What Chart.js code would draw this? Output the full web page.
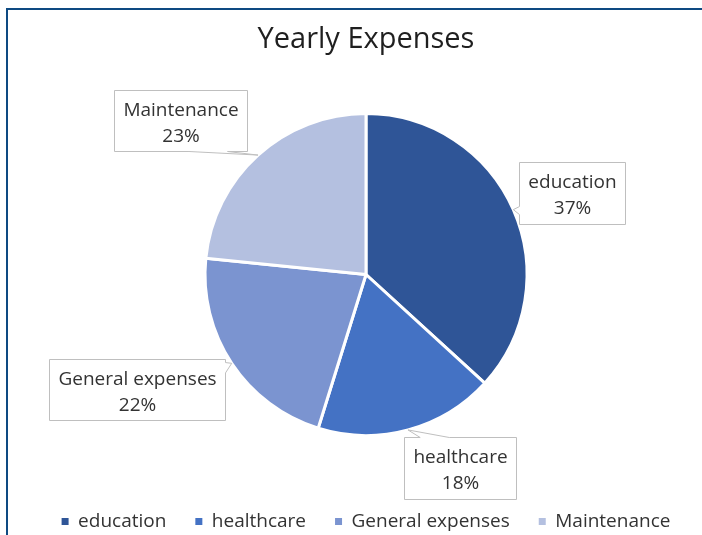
<!DOCTYPE html>
<html>
<head>
<meta charset="utf-8">
<script src="https://cdn.jsdelivr.net/npm/chart.js@4.4.1/dist/chart.umd.min.js"></script>
<style>
  body { margin: 0; background: #fff; }
  #wrap { position: relative; width: 702px; height: 535px; overflow: hidden; }
  #frame { position: absolute; left: 6px; top: 8px; width: 720px; height: 560px;
           border-top: 2px solid #0E4A82; border-left: 2px solid #0E4A82; }
  canvas { position: absolute; left: 0; top: 0; }
</style>
</head>
<body>
<div id="wrap"><div id="frame"></div><canvas id="chart" width="702" height="535"></canvas></div>
<script>
// ===== data =====
const categories = ['education', 'healthcare', 'General expenses', 'Maintenance'];
const shares = [36.8, 18.0, 21.8, 23.4];
const sliceColors = ['#2F5597', '#4472C4', '#7B94D0', '#B4C0E0'];

// callout boxes: centre offset from the slice edge midpoint, wedge side + base (fractions of that side)
const callouts = [
  { dx: 59, dy: -17, h: 62, side: 'left', a: 0.71, b: 0.84 },
  { dx: 52, dy: 38, h: 62, side: 'top', a: 0.14, b: 0.40 },
  { dx: -95, dy: 26, h: 61, side: 'right', a: 0.05, b: 0.22 },
  { dx: -78, dy: -35, h: 61, side: 'bottom', a: 0.56, b: 0.85 }
];

const FONT = '"Open Sans", "Liberation Sans", sans-serif';

const calloutPlugin = {
  id: 'callouts',
  beforeInit(chart) {
    // keep the legend on one row and pull it a bit lower than Chart.js would put it
    const legend = chart.legend;
    const fit = legend.fit;
    legend.fit = function () {
      const mw = this.maxWidth;
      this.maxWidth = mw + 60;
      fit.call(this);
      this.maxWidth = mw;
      this.width = mw;
      this.height -= 6;
    };
  },
  afterDatasetsDraw(chart) {
    const ctx = chart.ctx;
    const arcs = chart.getDatasetMeta(0).data;
    const total = shares.reduce((s, v) => s + v, 0);
    ctx.save();
    ctx.font = '19px ' + FONT;
    arcs.forEach((arc, i) => {
      const c = callouts[i];
      const mid = (arc.startAngle + arc.endAngle) / 2;
      const tx = arc.x + Math.cos(mid) * arc.outerRadius;
      const ty = arc.y + Math.sin(mid) * arc.outerRadius;
      const pct = Math.round(shares[i] / total * 100) + '%';
      const w = Math.round(Math.max(ctx.measureText(categories[i]).width, ctx.measureText(pct).width) + 18);
      const L = Math.round(tx + c.dx - w / 2) + 0.5;
      const T = Math.round(ty + c.dy - c.h / 2) + 0.5;
      const R = L + w, B = T + c.h;

      ctx.beginPath();
      ctx.moveTo(L, T);
      if (c.side === 'top') {
        ctx.lineTo(L + c.a * w, T); ctx.lineTo(tx, ty); ctx.lineTo(L + c.b * w, T);
      }
      ctx.lineTo(R, T);
      if (c.side === 'right') {
        ctx.lineTo(R, T + c.a * c.h); ctx.lineTo(tx, ty); ctx.lineTo(R, T + c.b * c.h);
      }
      ctx.lineTo(R, B);
      if (c.side === 'bottom') {
        ctx.lineTo(L + c.b * w, B); ctx.lineTo(tx, ty); ctx.lineTo(L + c.a * w, B);
      }
      ctx.lineTo(L, B);
      if (c.side === 'left') {
        ctx.lineTo(L, T + c.b * c.h); ctx.lineTo(tx, ty); ctx.lineTo(L, T + c.a * c.h);
      }
      ctx.closePath();
      ctx.fillStyle = '#FFFFFF';
      ctx.fill();
      ctx.strokeStyle = '#BFBFBF';
      ctx.lineWidth = 1;
      ctx.stroke();

      ctx.fillStyle = '#333333';
      ctx.textAlign = 'center';
      ctx.textBaseline = 'middle';
      ctx.fillText(categories[i], (L + R) / 2, T + 20);
      ctx.fillText(pct, (L + R) / 2, T + 46);
    });
    ctx.restore();
  }
};

new Chart(document.getElementById('chart'), {
  type: 'pie',
  data: {
    labels: categories,
    datasets: [{
      data: shares,
      backgroundColor: sliceColors,
      borderColor: '#FFFFFF',
      borderWidth: 3,
      radius: 161
    }]
  },
  options: {
    responsive: false,
    animation: false,
    layout: { padding: { left: 30, top: 0, right: 0, bottom: 0 } },
    plugins: {
      tooltip: { enabled: false },
      title: {
        display: true,
        text: 'Yearly Expenses',
        color: '#1F1F1F',
        font: { family: FONT, size: 29, weight: 'normal' },
        padding: { top: 22, bottom: 9.2 }
      },
      legend: {
        position: 'bottom',
        labels: {
          color: '#333333',
          font: { family: FONT, size: 19 },
          boxWidth: 7,
          boxHeight: 7,
          padding: 29,
          generateLabels(chart) {
            const items = Chart.overrides.doughnut.plugins.legend.labels.generateLabels(chart);
            items.forEach(it => { it.lineWidth = 0; it.strokeStyle = 'rgba(0,0,0,0)'; });
            return items;
          }
        }
      }
    }
  },
  plugins: [calloutPlugin]
});
</script>
</body>
</html>
